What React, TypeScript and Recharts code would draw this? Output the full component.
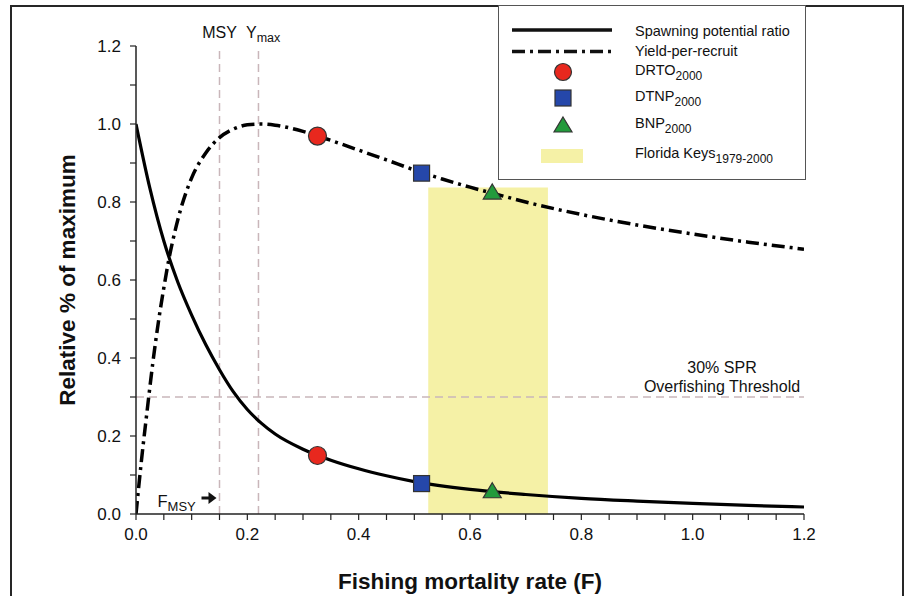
import React from 'react';
import {
  ComposedChart,
  Line,
  Scatter,
  XAxis,
  YAxis,
  ReferenceLine,
  ReferenceArea,
  Legend,
} from 'recharts';

// spawning potential ratio
const sprF = [0, 0.025, 0.05, 0.075, 0.1, 0.125, 0.15, 0.175, 0.2, 0.225, 0.25, 0.3, 0.35, 0.4, 0.45, 0.5, 0.6, 0.7, 0.8, 0.9, 1.0, 1.1, 1.2];
const sprValues = [1.0, 0.835, 0.7, 0.595, 0.51, 0.435, 0.37, 0.313, 0.268, 0.233, 0.205, 0.166, 0.138, 0.116, 0.098, 0.083, 0.063, 0.05, 0.04, 0.033, 0.027, 0.022, 0.018];

// yield-per-recruit
const yprF = [0, 0.01, 0.02, 0.03, 0.04, 0.05, 0.06, 0.07, 0.08, 0.09, 0.1, 0.125, 0.15, 0.175, 0.2, 0.225, 0.25, 0.3, 0.35, 0.4, 0.45, 0.5, 0.55, 0.6, 0.65, 0.7, 0.8, 0.9, 1.0, 1.1, 1.2];
const yprValues = [0, 0.14, 0.265, 0.385, 0.49, 0.58, 0.66, 0.725, 0.78, 0.825, 0.862, 0.925, 0.965, 0.987, 0.998, 1.0, 0.997, 0.981, 0.958, 0.933, 0.908, 0.882, 0.859, 0.838, 0.819, 0.8, 0.768, 0.741, 0.718, 0.697, 0.679];

// sites (2000)
const siteNames = ['DRTO', 'DTNP', 'BNP'];
const siteF = [0.326, 0.513, 0.64];
const siteSPR = [0.15, 0.078, 0.057];
const siteYPR = [0.969, 0.874, 0.823];

// Florida Keys 1979-2000 range
const keysRange = [0.525, 0.74];
const keysTop = 0.837;

const fMsy = 0.15;
const fYmax = 0.22;
const sprThreshold = 0.3;

const xTicks = [0, 0.05, 0.1, 0.15, 0.2, 0.25, 0.3, 0.35, 0.4, 0.45, 0.5, 0.55, 0.6, 0.65, 0.7, 0.75, 0.8, 0.85, 0.9, 0.95, 1.0, 1.05, 1.1, 1.15, 1.2];
const xLabels = ['0.0', '0.2', '0.4', '0.6', '0.8', '1.0', '1.2'];
const yTicks = [0, 0.1, 0.2, 0.3, 0.4, 0.5, 0.6, 0.7, 0.8, 0.9, 1.0, 1.1, 1.2];
const yLabels = ['0.0', '0.2', '0.4', '0.6', '0.8', '1.0', '1.2'];

const FONT = '"Liberation Sans", Arial, Helvetica, sans-serif';
const DASH_GREY = '#c9b6ba';
const RED = '#e8281e';
const BLUE = '#2547aa';
const GREEN = '#239a3c';
const YELLOW = '#f5f1a6';
const DASH_DOT = '13 5 3 5';

const sprData = sprF.map((f, i) => ({ F: f, v: sprValues[i] }));
const yprData = yprF.map((f, i) => ({ F: f, v: yprValues[i] }));
const siteData = siteNames.map((name, i) => [
  { F: siteF[i], v: siteSPR[i], name },
  { F: siteF[i], v: siteYPR[i], name },
]);

const fmtTick = (labels: string[]) => (v: number) => {
  const s = v.toFixed(1);
  return labels.includes(s) && Math.abs(v * 5 - Math.round(v * 5)) < 1e-6 ? s : '';
};

const Circle = (props: any) => {
  const { cx, cy } = props;
  return <circle cx={cx} cy={cy} r={9} fill={RED} stroke="#333" strokeWidth={1.2} />;
};
const Square = (props: any) => {
  const { cx, cy } = props;
  return <rect x={cx - 8} y={cy - 8} width={16} height={16} fill={BLUE} stroke="#333" strokeWidth={1.2} />;
};
const Triangle = (props: any) => {
  const { cx, cy } = props;
  return (
    <polygon
      points={`${cx},${cy - 9} ${cx + 9},${cy + 6} ${cx - 9},${cy + 6}`}
      fill={GREEN}
      stroke="#333"
      strokeWidth={1.2}
    />
  );
};
const shapes = [Circle, Square, Triangle];

const MsyLabel = (props: any) => {
  const vb = props.viewBox;
  if (!vb) return null;
  const x = vb.x;
  const bottom = vb.y + vb.height;
  return (
    <g fontFamily={FONT} fill="#111">
      <text x={x} y={vb.y - 8} fontSize={16} textAnchor="middle">MSY</text>
      <text x={x - 62} y={bottom - 7} fontSize={16.5}>
        F<tspan fontSize={13} dy={4}>MSY</tspan>
      </text>
      <line x1={x - 18} y1={bottom - 16} x2={x - 10} y2={bottom - 16} stroke="#111" strokeWidth={3} />
      <polygon points={`${x - 3},${bottom - 16} ${x - 11},${bottom - 22} ${x - 11},${bottom - 10}`} fill="#111" />
    </g>
  );
};

const YmaxLabel = (props: any) => {
  const vb = props.viewBox;
  if (!vb) return null;
  return (
    <text x={vb.x - 12.5} y={vb.y - 8} fontSize={16} fontFamily={FONT} fill="#111">
      Y<tspan fontSize={12.5} dy={4}>max</tspan>
    </text>
  );
};

const ThresholdLabel = (props: any) => {
  const vb = props.viewBox;
  if (!vb) return null;
  const cx = vb.x + vb.width - 82;
  return (
    <g fontFamily={FONT} fill="#111" fontSize={16} textAnchor="middle">
      <text x={cx} y={vb.y - 24}>30% SPR</text>
      <text x={cx} y={vb.y - 5}>Overfishing Threshold</text>
    </g>
  );
};

const XTitle = (props: any) => {
  const vb = props.viewBox;
  if (!vb) return null;
  return (
    <text x={vb.x + vb.width / 2} y={vb.y + 75} textAnchor="middle" fontFamily={FONT} fontSize={22.5} fontWeight="bold" fill="#111">
      Fishing mortality rate (F)
    </text>
  );
};

const YTitle = (props: any) => {
  const vb = props.viewBox;
  if (!vb) return null;
  const x = vb.x - 1;
  const y = vb.y + vb.height / 2;
  return (
    <text x={x} y={y} transform={`rotate(-90, ${x}, ${y})`} textAnchor="middle" fontFamily={FONT} fontSize={22.5} fontWeight="bold" fill="#111">
      Relative % of maximum
    </text>
  );
};

const LegendBox = () => {
  const textX = 136;
  const markX = 64;
  return (
    <div style={{ width: 306, height: 173, border: '1.5px solid #555', background: '#fff', boxSizing: 'content-box' }}>
      <svg width={306} height={173} style={{ display: 'block' }} fontFamily={FONT} fontSize={14.5} fill="#111">
        <line x1={13} y1={24} x2={113} y2={24} stroke="#111" strokeWidth={3.5} />
        <text x={textX} y={30}>Spawning potential ratio</text>
        <line x1={13} y1={45.5} x2={113} y2={45.5} stroke="#111" strokeWidth={3.5} strokeDasharray={DASH_DOT} />
        <text x={textX} y={50}>Yield-per-recruit</text>
        <circle cx={markX} cy={66} r={8.5} fill={RED} stroke="#333" strokeWidth={1.2} />
        <text x={textX} y={69}>{siteNames[0]}<tspan fontSize={12} dy={5}>2000</tspan></text>
        <rect x={markX - 8} y={84} width={16} height={16} fill={BLUE} stroke="#333" strokeWidth={1.2} />
        <text x={textX} y={95}>{siteNames[1]}<tspan fontSize={12} dy={5}>2000</tspan></text>
        <polygon points={`${markX},${111} ${markX + 9},${126} ${markX - 9},${126}`} fill={GREEN} stroke="#333" strokeWidth={1.2} />
        <text x={textX} y={121.5}>{siteNames[2]}<tspan fontSize={12} dy={5}>2000</tspan></text>
        <rect x={42} y={143} width={42} height={14} fill={YELLOW} />
        <text x={textX} y={151.5}>Florida Keys<tspan fontSize={12} dy={5}>1979-2000</tspan></text>
      </svg>
    </div>
  );
};

export default function App() {
  return (
    <div style={{ position: 'absolute', left: 0, top: 0, width: 906, height: 596, overflow: 'hidden', background: '#fff' }}>
      <div
        style={{
          position: 'absolute',
          left: 10,
          top: 5,
          width: 890,
          height: 700,
          border: '2px solid #262626',
        }}
      />
      <div style={{ position: 'absolute', left: 0, top: 0 }}>
        <ComposedChart width={906} height={596} margin={{ top: 46, right: 102, left: 76, bottom: 22 }}>
          <XAxis
            type="number"
            dataKey="F"
            domain={[0, 1.2]}
            ticks={xTicks}
            interval={0}
            allowDataOverflow
            tickFormatter={fmtTick(xLabels)}
            axisLine={{ stroke: '#222', strokeWidth: 1.5 }}
            tickLine={{ stroke: '#222', strokeWidth: 1.2 }}
            tickSize={6}
            tickMargin={8}
            tick={{ fontSize: 17, fill: '#111', fontFamily: FONT }}
            height={60}
            label={XTitle}
          />
          <YAxis
            type="number"
            domain={[0, 1.2]}
            ticks={yTicks}
            interval={0}
            allowDataOverflow
            tickFormatter={fmtTick(yLabels)}
            axisLine={{ stroke: '#222', strokeWidth: 1.5 }}
            tickLine={{ stroke: '#222', strokeWidth: 1.2 }}
            tickSize={6}
            tickMargin={9}
            tick={{ fontSize: 17, fill: '#111', fontFamily: FONT }}
            width={60}
            label={YTitle}
          />
          <ReferenceArea x1={keysRange[0]} x2={keysRange[1]} y1={0} y2={keysTop} fill={YELLOW} fillOpacity={1} stroke="none" />
          <ReferenceLine x={fMsy} stroke={DASH_GREY} strokeWidth={1.5} strokeDasharray="8 5" label={MsyLabel} />
          <ReferenceLine x={fYmax} stroke={DASH_GREY} strokeWidth={1.5} strokeDasharray="8 5" label={YmaxLabel} />
          <ReferenceLine y={sprThreshold} stroke={DASH_GREY} strokeWidth={1.5} strokeDasharray="8 5" label={ThresholdLabel} />
          <Line data={sprData} dataKey="v" type="monotone" stroke="#000" strokeWidth={3.2} dot={false} isAnimationActive={false} />
          <Line data={yprData} dataKey="v" type="monotone" stroke="#000" strokeWidth={3.5} strokeDasharray={DASH_DOT} dot={false} isAnimationActive={false} />
          {siteData.map((d, i) => (
            <Scatter key={siteNames[i]} data={d} dataKey="v" shape={shapes[i]} isAnimationActive={false} />
          ))}
          <Legend
            layout="vertical"
            align="center"
            verticalAlign="middle"
            content={LegendBox}
            wrapperStyle={{ left: 498, top: 5, width: 309, height: 176 }}
          />
        </ComposedChart>
      </div>
    </div>
  );
}
